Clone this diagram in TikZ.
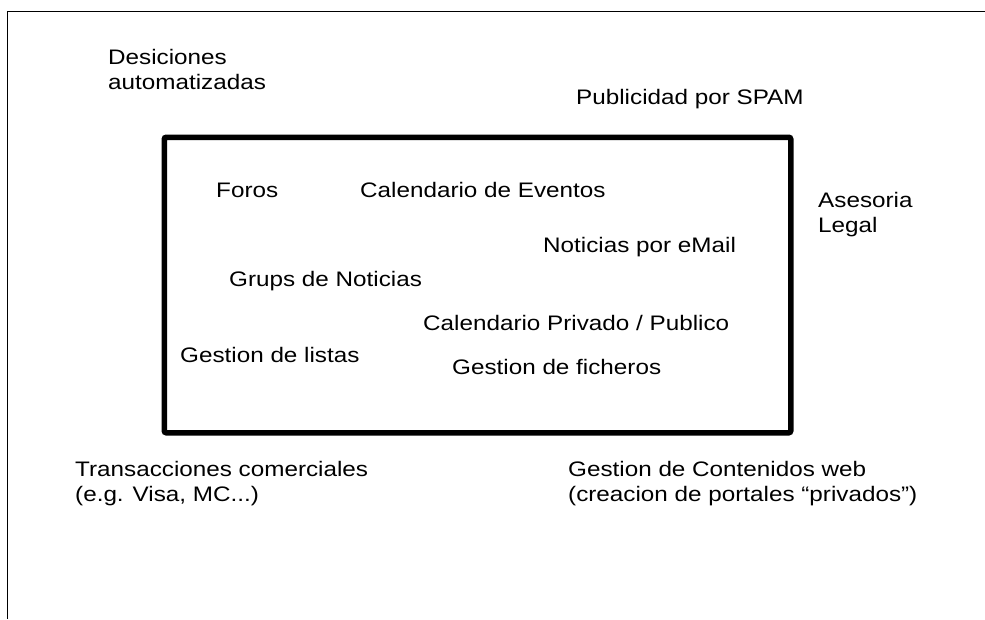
\documentclass[tikz,border=0pt]{standalone}
\usepackage{fontspec}
\setmainfont{Liberation Sans}[FakeStretch=1.155]
\usepackage{tikz}
\usetikzlibrary{positioning, calc}
\tikzstyle{frameline} = [line width=1pt]
\tikzstyle{bigbox} = [rectangle, draw=black, line width=5.5pt, rounded corners=2pt, minimum width=626.5pt, minimum height=295.5pt, inner sep=0pt]
\tikzstyle{label} = [inner sep=0pt, anchor=base west, align=left, text=black, font=\fontsize{21}{24.5}\selectfont]

\begin{document}
\begin{tikzpicture}[x=1pt, y=-1pt]
\useasboundingbox (0,0) rectangle (985,619);

\coordinate (topleft) at (7.3,11.7);
\coordinate (topright) at (985,11.7);
\coordinate (bottomleft) at (7.3,619);
\draw [frameline] (topright) -- (topleft) -- (bottomleft);

\node (app) [bigbox, anchor=north west] at (161.5,134.5) {};

% outside the box (multi-line nodes sit on their last baseline)
\node (desic) [label] at (108,89) {Desiciones\\automatizadas};
\node (spam) [label] at (576,104) {Publicidad por SPAM};
\node (legal) [label] at (818,232) {Asesoria\\Legal};
\node (trans) [label] at (75,501) {Transacciones comerciales\\(e.g. Visa, MC...)};
\node (cms) [label] at (568,501) {Gestion de Contenidos web\\(creacion de portales “privados”)};

% inside the box
\node (foros) [label] at (216,197) {Foros};
\node (calev) [label] at (360,197) {Calendario de Eventos};
\node (news) [label] at (543,252) {Noticias por eMail};
\node (grups) [label] at (229,286) {Grups de Noticias};
\node (calpriv) [label] at (423,330) {Calendario Privado / Publico};
\node (lists) [label] at (180,362) {Gestion de listas};
\node (files) [label] at (452,374) {Gestion de ficheros};

\end{tikzpicture}
\end{document}
